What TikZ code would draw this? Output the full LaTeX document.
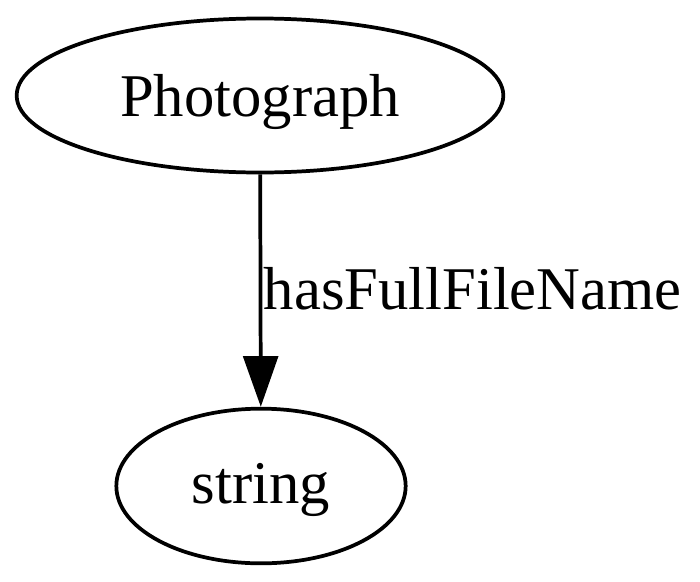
\documentclass[tikz,border=0pt]{standalone}
\usepackage{fontspec}
\setmainfont{Liberation Serif}
\usetikzlibrary{shapes.geometric,arrows.meta}

\tikzset{classnode/.style={draw, ellipse, inner sep=0pt, text depth=0pt, font=\fontsize{45.5}{54}\selectfont}}

\begin{document}
\begin{tikzpicture}[x=0.75pt,y=0.75pt,yscale=-1,xscale=1,line width=2.8pt]
\useasboundingbox (0,0) rectangle (700,582);

% Class Nodes
\node (photo) [classnode, text height=31.5pt, minimum width=365pt, minimum height=115.5pt] at (260,95.5) {Photograph};
\node (str) [classnode, text height=25.5pt, minimum width=217pt, minimum height=116pt] at (261,486) {string};

% Property Edge
\draw [-{Triangle[length=38pt,width=26pt]}] (photo) -- (str);

% Text Node
\draw (262,309) node [anchor=base west][inner sep=0pt] [font=\fontsize{45.5}{54}\selectfont] {hasFullFileName};

\end{tikzpicture}
\end{document}
